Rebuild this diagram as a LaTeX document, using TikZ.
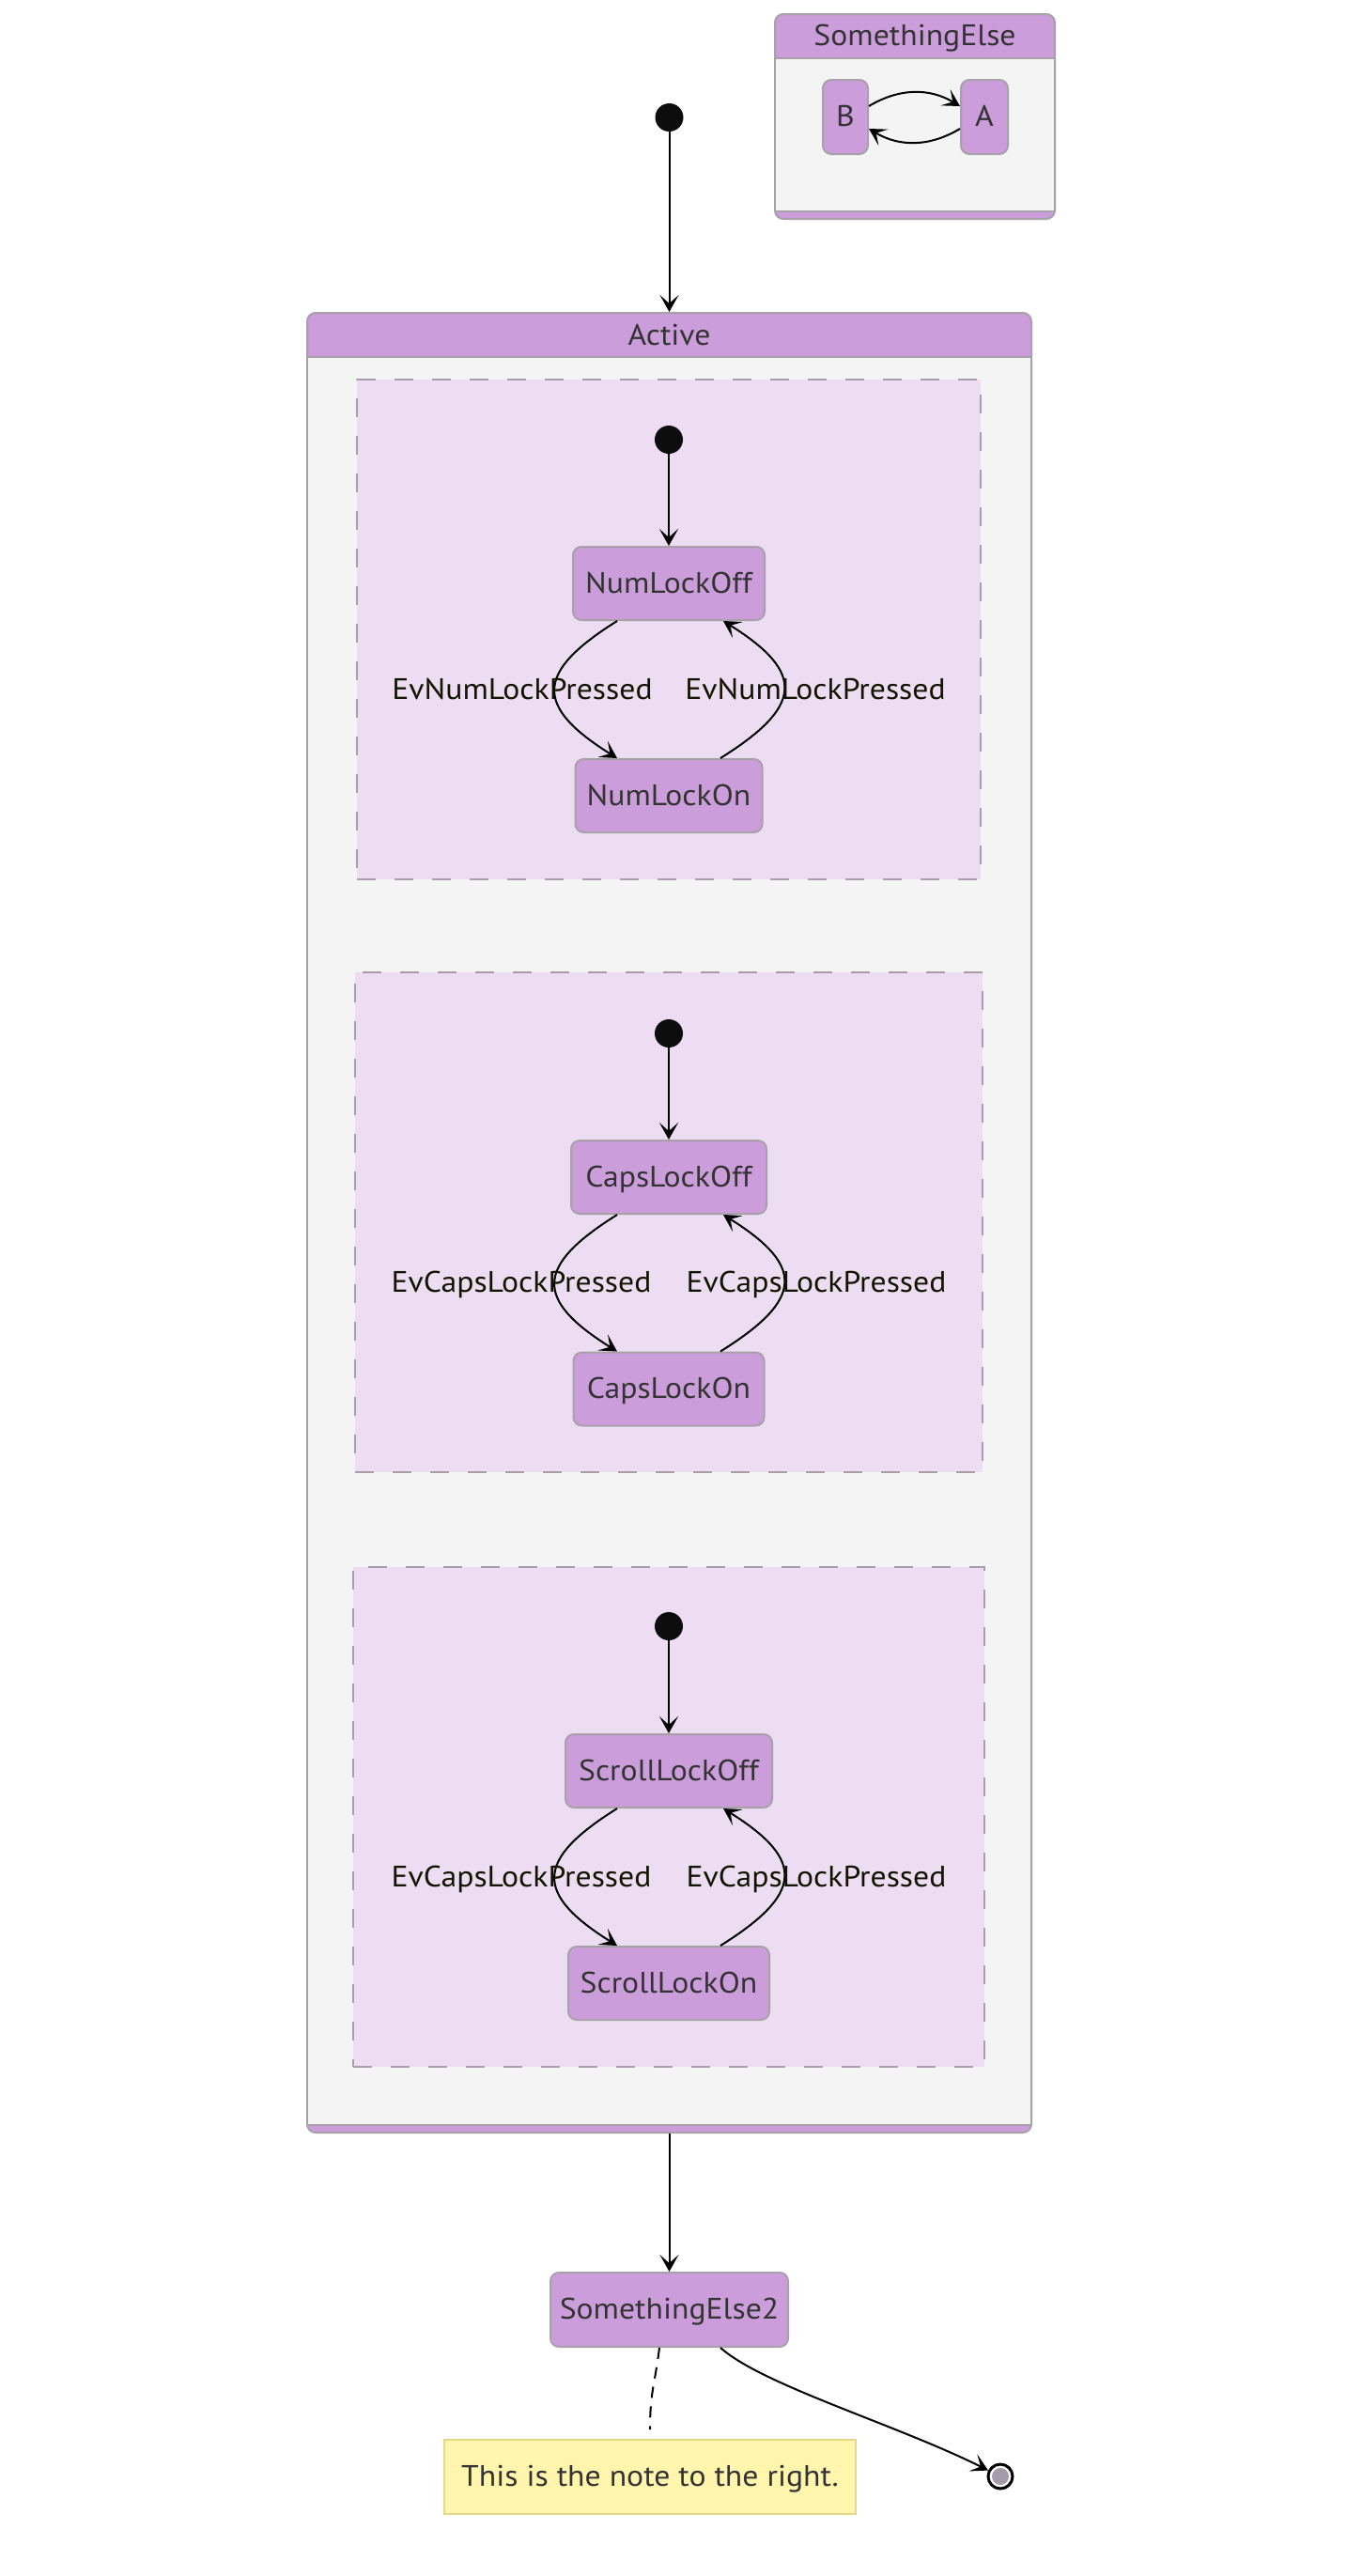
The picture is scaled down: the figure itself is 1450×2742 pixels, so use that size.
\documentclass[tikz,border=0pt]{standalone}
\usepackage{fontspec}
\setmainfont[FakeStretch=1.07]{PT Sans}
\usetikzlibrary{arrows.meta,calc}
\definecolor{nodefill}{HTML}{CB9DDA}
\definecolor{nodeline}{HTML}{A9A1A9}
\definecolor{compfill}{HTML}{F4F4F4}
\definecolor{dashfill}{HTML}{ECDDF2}
\definecolor{dashline}{HTML}{A99DAB}
\definecolor{txt}{HTML}{333333}
\definecolor{lbl}{HTML}{131300}
\definecolor{notefill}{HTML}{FFF5AD}
\definecolor{noteline}{HTML}{E6D88A}
\definecolor{endfill}{HTML}{A69BAA}
\newcommand\dgfont{\fontsize{31.5pt}{38pt}\selectfont}
\begin{document}
\begin{tikzpicture}[x=1pt,y=-1pt,
  fixtext/.style={text height=24pt, text depth=4pt},
  stnode/.style={draw=nodeline, fill=nodefill, line width=2pt, rounded corners=9pt,
    minimum height=78pt, inner sep=0pt, text=txt, font=\dgfont, fixtext},
  initdot/.style={circle, fill=black!95, minimum size=30pt, inner sep=0pt},
  tr/.style={-{Stealth[length=18pt,width=20pt,inset=9pt]}, line width=2pt, draw=black},
  lblnode/.style={text=lbl, font=\dgfont, inner sep=0pt, fixtext},
  compbox/.style={draw=nodeline, fill=nodefill, line width=2pt, rounded corners=9pt, inner sep=0pt},
  dashbox/.style={draw=dashline, fill=dashfill, line width=2pt, dash pattern=on 20pt off 20pt, inner sep=0pt},
  hdr/.style={text=txt, font=\dgfont, inner sep=0pt, fixtext}]
\useasboundingbox (0,0) rectangle (1450,2742);
\fill[white] (0,0) rectangle (1450,2742);

% ---- SomethingElse composite
\node[compbox, minimum width=298pt, minimum height=218pt] (se) at (974,124) {};
\fill[compfill] (826,62) rectangle (1122,225);
\draw[nodeline, line width=2pt] (825,62) -- (1123,62);
\draw[nodeline, line width=2pt] (825,225) -- (1123,225);
\node[hdr] (sehdr) at (974,38.5) {SomethingElse};
\node[stnode, minimum width=48pt, minimum height=79pt] (B) at (900,124.5) {B};
\node[stnode, minimum width=50pt, minimum height=79pt] (A) at (1048,124.5) {A};
\draw[tr] ([yshift=11.5pt]B.east) to[bend left=31] ([yshift=11.5pt]A.west);
\draw[tr] ([yshift=-12.5pt]A.west) to[bend left=31] ([yshift=-12.5pt]B.east);

% ---- top initial state
\node[initdot] (d0) at (712.5,125) {};

% ---- Active composite
\node[compbox, minimum width=771pt, minimum height=1937pt] (active) at (712.5,1301.5) {};
\fill[compfill] (328,380) rectangle (1097,2262);
\draw[nodeline, line width=2pt] (327,380) -- (1098,380);
\draw[nodeline, line width=2pt] (327,2262) -- (1098,2262);
\node[hdr] (acthdr) at (712.5,357) {Active};
\draw[tr] (d0) -- (active.north);

% ---- region 1
\node[dashbox, minimum width=664pt, minimum height=532pt] (r1) at (712,670) {};
\node[initdot] (d1) at (712,468) {};
\node[stnode, minimum width=204pt] (nloff) at (712,621) {NumLockOff};
\node[stnode, minimum width=199pt] (nlon) at (712,847) {NumLockOn};
\draw[tr] (d1) -- (nloff.north);
\draw[tr] ([xshift=-55pt]nloff.south) .. controls +(-88,55) and +(-88,-55) .. ([xshift=-55pt]nlon.north);
\draw[tr] ([xshift=55pt]nlon.north) .. controls +(88,-55) and +(88,55) .. ([xshift=58pt]nloff.south);
\node[lblnode] (l1a) at ($(nloff)!0.5!(nlon)+(-156,0)$) {EvNumLockPressed};
\node[lblnode] (l1b) at ($(nloff)!0.5!(nlon)+(156,0)$) {EvNumLockPressed};

% ---- region 2
\node[dashbox, minimum width=668pt, minimum height=532pt] (r2) at (712,1301) {};
\node[initdot] (d2) at (712,1100) {};
\node[stnode, minimum width=208pt] (cloff) at (712,1253) {CapsLockOff};
\node[stnode, minimum width=203pt] (clon) at (712,1478.5) {CapsLockOn};
\draw[tr] (d2) -- (cloff.north);
\draw[tr] ([xshift=-55pt]cloff.south) .. controls +(-88,55) and +(-88,-55) .. ([xshift=-55pt]clon.north);
\draw[tr] ([xshift=55pt]clon.north) .. controls +(88,-55) and +(88,55) .. ([xshift=58pt]cloff.south);
\node[lblnode] (l2a) at ($(cloff)!0.5!(clon)+(-157,0)$) {EvCapsLockPressed};
\node[lblnode] (l2b) at ($(cloff)!0.5!(clon)+(157,0)$) {EvCapsLockPressed};

% ---- region 3
\node[dashbox, minimum width=672pt, minimum height=532pt] (r3) at (712,1934) {};
\node[initdot] (d3) at (712,1731) {};
\node[stnode, minimum width=220pt] (sloff) at (712,1885) {ScrollLockOff};
\node[stnode, minimum width=214pt] (slon) at (712,2111) {ScrollLockOn};
\draw[tr] (d3) -- (sloff.north);
\draw[tr] ([xshift=-55pt]sloff.south) .. controls +(-88,55) and +(-88,-55) .. ([xshift=-55pt]slon.north);
\draw[tr] ([xshift=55pt]slon.north) .. controls +(88,-55) and +(88,55) .. ([xshift=58pt]sloff.south);
\node[lblnode] (l3a) at ($(sloff)!0.5!(slon)+(-157,0)$) {EvCapsLockPressed};
\node[lblnode] (l3b) at ($(sloff)!0.5!(slon)+(157,0)$) {EvCapsLockPressed};

% ---- after Active
\node[stnode, minimum width=253pt, minimum height=79pt] (se2) at (712.5,2458.5) {SomethingElse2};
\draw[tr] (active.south) -- (se2.north);
\node[draw=noteline, fill=notefill, line width=2pt, minimum width=438pt, minimum height=79pt,
  inner sep=0pt, text=txt, font=\dgfont, fixtext] (note) at (692,2636.5) {This is the note to the right.};
\draw[black, line width=2pt, dash pattern=on 12pt off 9pt] ([xshift=-10.5pt]se2.south)
  .. controls +(-5,40) and +(0,-40) .. ([yshift=10pt]note.north);
\node[circle, draw=black, line width=3pt, fill=white, minimum size=26pt, inner sep=0pt] (end) at (1065,2636) {};
\fill[endfill] (end.center) circle (9pt);
\draw[tr] ([xshift=54.5pt]se2.south) .. controls +(45,40) and +(-110,-55) .. (end);
\end{tikzpicture}
\end{document}
